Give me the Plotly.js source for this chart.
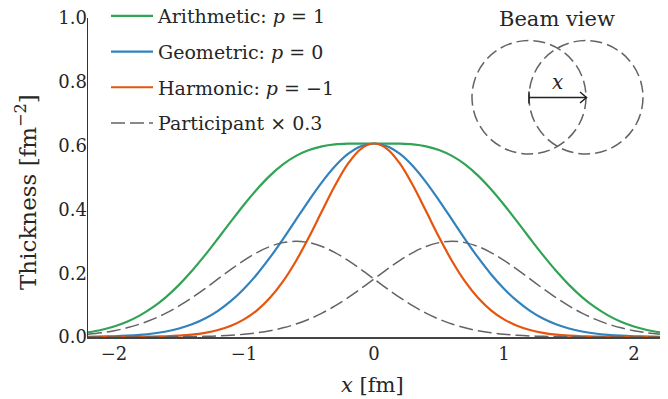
<!DOCTYPE html>
<html>
<head>
<meta charset="utf-8">
<script src="https://cdn.plot.ly/plotly-3.0.1.min.js"></script>
<style>html,body{margin:0;padding:0;background:#fff;}#chart{width:668px;height:399px;}</style>
</head>
<body>
<div id="chart"></div>
<script>
// x positions [fm]
const xVals = [-2.2,-2.1,-2.0,-1.9,-1.8,-1.7,-1.6,-1.5,-1.4,-1.3,-1.2,-1.1,-1.0,-0.9,-0.8,-0.7,-0.6,-0.5,-0.4,-0.3,-0.2,-0.1,0.0,
  0.1,0.2,0.3,0.4,0.5,0.6,0.7,0.8,0.9,1.0,1.1,1.2,1.3,1.4,1.5,1.6,1.7,1.8,1.9,2.0,2.1,2.2];

// Arithmetic: p = 1
const arithmetic = [0.01429,0.02199,0.03291,0.0479,0.06784,0.09346,0.12528,0.16342,0.20749,0.25649,0.30882,0.36236,0.41466,0.46322,0.50585,0.54092,0.56767,0.58624,0.59766,0.60358,0.60593,0.60649,0.60653,
  0.60649,0.60593,0.60358,0.59766,0.58624,0.56767,0.54092,0.50585,0.46322,0.41466,0.36236,0.30882,0.25649,0.20749,0.16342,0.12528,0.09346,0.06784,0.0479,0.03291,0.02199,0.01429];

// Geometric: p = 0
const geometric = [0.00073,0.00133,0.00235,0.00403,0.00674,0.01096,0.01733,0.02665,0.03987,0.058,0.08209,0.11298,0.15124,0.19691,0.24935,0.3071,0.36788,0.4286,0.48567,0.53526,0.57375,0.59817,0.60653,
  0.59817,0.57375,0.53526,0.48567,0.4286,0.36788,0.3071,0.24935,0.19691,0.15124,0.11298,0.08209,0.058,0.03987,0.02665,0.01733,0.01096,0.00674,0.00403,0.00235,0.00133,0.00073];

// Harmonic: p = -1
const harmonic = [0.00004,0.00008,0.00017,0.00034,0.00067,0.00129,0.0024,0.00435,0.00766,0.01312,0.02182,0.03523,0.05516,0.08371,0.12291,0.17435,0.2384,0.31335,0.39467,0.47468,0.54329,0.58997,0.60653,
  0.58997,0.54329,0.47468,0.39467,0.31335,0.2384,0.17435,0.12291,0.08371,0.05516,0.03523,0.02182,0.01312,0.00766,0.00435,0.0024,0.00129,0.00067,0.00034,0.00017,0.00008,0.00004];

// Participant x 0.3 (left and right nucleon)
const participantLeft = [0.00857,0.01318,0.01972,0.02869,0.0406,0.05588,0.07481,0.0974,0.12333,0.1519,0.18196,0.21199,0.24022,0.26475,0.28379,0.29586,0.3,0.29586,0.28379,0.26475,0.24022,0.21199,0.18196,
  0.1519,0.12333,0.0974,0.07481,0.05588,0.0406,0.02869,0.01972,0.01318,0.00857,0.00542,0.00333,0.002,0.00116,0.00066,0.00036,0.00019,0.0001,0.00005,0.000025,0.000012,0.0000056];
const participantRight = [0.0000056,0.000012,0.000025,0.00005,0.0001,0.00019,0.00036,0.00066,0.00116,0.002,0.00333,0.00542,0.00857,0.01318,0.01972,0.02869,0.0406,0.05588,0.07481,0.0974,0.12333,0.1519,0.18196,
  0.21199,0.24022,0.26475,0.28379,0.29586,0.3,0.29586,0.28379,0.26475,0.24022,0.21199,0.18196,0.1519,0.12333,0.0974,0.07481,0.05588,0.0406,0.02869,0.01972,0.01318,0.00857];

const seriesNames = ['Arithmetic: <i>p</i> = 1','Geometric: <i>p</i> = 0','Harmonic: <i>p</i> = −1','Participant × 0.3'];
const xTicks = [-2,-1,0,1,2];
const yTicks = [0,0.2,0.4,0.6,0.8,1.0];

const FONT = 'DejaVu Serif, Liberation Serif, serif';
const TXT = '#262626';
const dashGray = '#636363';

const traces = [
  {x:xVals,y:arithmetic,name:seriesNames[0],legendgroup:'a',mode:'lines',line:{color:'#31a354',width:2.2,shape:'spline'}},
  {x:xVals,y:geometric,name:seriesNames[1],legendgroup:'b',mode:'lines',line:{color:'#3182bd',width:2.2,shape:'spline'}},
  {x:xVals,y:harmonic,name:seriesNames[2],legendgroup:'c',mode:'lines',line:{color:'#e6550d',width:2.2,shape:'spline'}},
  {x:xVals,y:participantLeft,name:seriesNames[3],legendgroup:'d',mode:'lines',line:{color:dashGray,width:1.5,dash:'14px,5px',shape:'spline'}},
  {x:xVals,y:participantRight,name:seriesNames[3],legendgroup:'d',showlegend:false,mode:'lines',line:{color:dashGray,width:1.5,dash:'14px,5px',shape:'spline'}}
];

// pixel -> paper helpers for the inset diagram
const L=88, T=18, W=572, H=319;
const X = px => (px-L)/W;
const Y = py => (T+H-py)/H;

const shapes = [
  {type:'circle',xref:'paper',yref:'paper',x0:X(472),x1:X(586),y0:Y(154),y1:Y(40.5),line:{color:dashGray,width:1.5,dash:'12px,5px'}},
  {type:'circle',xref:'paper',yref:'paper',x0:X(529),x1:X(643),y0:Y(154),y1:Y(40.5),line:{color:dashGray,width:1.5,dash:'12px,5px'}},
  {type:'path',xref:'paper',yref:'paper',path:`M ${X(529)} ${Y(97.5)} L ${X(586.5)} ${Y(97.5)}`,line:{color:'#222',width:1.5}},
  {type:'path',xref:'paper',yref:'paper',path:`M ${X(529)} ${Y(91.5)} L ${X(529)} ${Y(103.5)}`,line:{color:'#222',width:1.5}},
  {type:'path',xref:'paper',yref:'paper',path:`M ${X(580)} ${Y(92)} L ${X(586.5)} ${Y(97.5)} L ${X(580)} ${Y(103)}`,line:{color:'#222',width:1.5}}
];

const annotations = [
  {text:'Beam view',xref:'paper',yref:'paper',x:X(557),y:Y(19),xanchor:'center',yanchor:'middle',showarrow:false,font:{family:FONT,size:21,color:TXT}},
  {text:'<i>x</i>',xref:'paper',yref:'paper',x:X(557),y:Y(82),xanchor:'center',yanchor:'middle',showarrow:false,font:{family:FONT,size:20,color:TXT}},
  {text:'Thickness [fm<sup>−2</sup>]',xref:'paper',yref:'paper',x:X(26),y:Y(192),xanchor:'center',yanchor:'middle',textangle:-90,showarrow:false,font:{family:FONT,size:23,color:TXT}},
  {text:'<i>x</i> [fm]',xref:'paper',yref:'paper',x:X(372),y:Y(385),xanchor:'center',yanchor:'middle',showarrow:false,font:{family:FONT,size:21,color:TXT}}
];

const layout = {
  width:668,height:399,
  margin:{l:L,r:668-L-W,t:T,b:399-T-H,pad:0,autoexpand:false},
  paper_bgcolor:'#fff',plot_bgcolor:'#fff',
  font:{family:FONT,size:18,color:TXT},
  showlegend:true,
  legend:{x:X(106),y:Y(-3),xanchor:'left',yanchor:'top',bgcolor:'rgba(0,0,0,0)',borderwidth:0,
    font:{family:FONT,size:19,color:TXT},traceorder:'grouped',tracegroupgap:8,itemwidth:42},
  xaxis:{range:[-2.2,2.2],tickvals:xTicks,ticks:'',showgrid:false,zeroline:false,showline:true,linecolor:'#444',linewidth:1.5,
    tickfont:{family:FONT,size:18,color:TXT},fixedrange:true},
  yaxis:{range:[0,1.0],tickvals:yTicks,tickformat:'.1f',ticks:'',showgrid:false,zeroline:false,showline:true,linecolor:'#333',linewidth:1.5,
    tickfont:{family:FONT,size:18,color:TXT},ticklabelstandoff:-4,fixedrange:true},
  shapes:shapes,annotations:annotations
};

Plotly.newPlot('chart',traces,layout,{staticPlot:true,displayModeBar:false});
</script>
</body>
</html>
